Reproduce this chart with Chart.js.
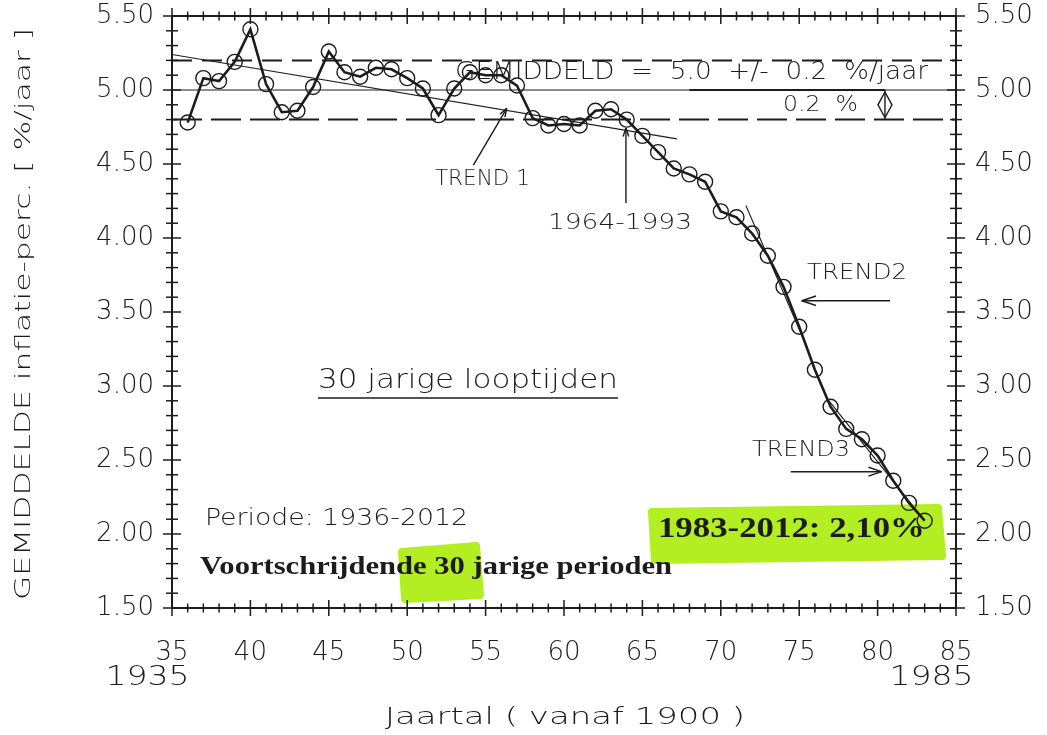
<!DOCTYPE html>
<html>
<head>
<meta charset="utf-8">
<script src="https://cdn.jsdelivr.net/npm/chart.js@4.4.1/dist/chart.umd.min.js"></script>
<style>
html,body{margin:0;padding:0;background:#fff;}
#wrap{width:1047px;height:735px;position:relative;}
</style>
</head>
<body>
<div id="wrap"><canvas id="c" width="1047" height="735"></canvas></div>
<script>
// ---------- DATA ----------
// start year (vanaf 1900) of each 30-year period
const years = [36,37,38,39,40,41,42,43,44,45,46,47,48,49,50,51,52,53,54,55,56,57,58,59,
               60,61,62,63,64,65,66,67,68,69,70,71,72,73,74,75,76,77,78,79,80,81,82,83];
// average inflation over the 30-year period [%/jaar]
const avgInflation = [4.78,5.08,5.06,5.19,5.41,5.04,4.85,4.86,5.02,5.26,5.12,5.09,5.15,5.14,5.08,5.01,4.83,5.01,5.12,5.10,5.10,5.03,4.81,4.76,
                      4.77,4.76,4.86,4.87,4.80,4.69,4.58,4.47,4.43,4.38,4.18,4.14,4.03,3.88,3.67,3.40,3.11,2.86,2.71,2.64,2.53,2.36,2.21,2.09];
const meanValue = [5.0];
const bandValues = [5.2, 4.8];
const trend1 = [[35, 5.24], [67.2, 4.67]];
const trend2 = [[71.6, 4.22], [75.5, 3.26]];
const trend3 = [[76.9, 2.90], [83.0, 2.09]];
const xRange = [35, 85];
const yRange = [1.5, 5.5];
const yearLabels = {35: '1935', 85: '1985'};

// ---------- STYLE ----------
const INK = '#1c1c1c';
const SANS = "'DejaVu Sans', 'Liberation Sans', sans-serif";
const SERIF = "'Liberation Serif', 'DejaVu Serif', serif";
const HILITE = '#b3ee22';

const toPts = arr => arr.map(p => ({x: p[0], y: p[1]}));

// annotation definitions (data coordinates)
const texts = [
  {t: 'GEMIDDELD  =  5.0  +/-  0.2  %/jaar', x1: 53.05, x2: 83.22, y: 5.115, font: '300 24px ' + SANS},
  {t: '0.2  %', x1: 73.97, x2: 78.75, y: 4.899, font: '300 22px ' + SANS},
  {t: 'TREND 1', x1: 51.77, x2: 57.83, y: 4.392, font: '300 21px ' + SANS},
  {t: '1964-1993', x1: 58.98, x2: 68.16, y: 4.101, font: '300 21px ' + SANS},
  {t: 'TREND2', x1: 75.50, x2: 81.88, y: 3.764, font: '300 22px ' + SANS},
  {t: 'TREND3', x1: 71.99, x2: 78.24, y: 2.563, font: '300 22px ' + SANS},
  {t: '30 jarige looptijden', x1: 44.31, x2: 63.44, y: 3.034, font: '300 27px ' + SANS},
  {t: 'Periode: 1936-2012', x1: 37.10, x2: 53.88, y: 2.101, font: '300 23px ' + SANS},
  {t: 'Voortschrijdende 30 jarige perioden', x1: 36.79, x2: 66.89, y: 1.777, font: 'bold 26px ' + SERIF},
  {t: '1983-2012: 2,10%', x1: 65.99, x2: 83.02, y: 2.034, font: 'bold 30px ' + SERIF}
];
const arrows = [
  {from: [54.22, 4.493], to: [56.35, 4.876], head: 9},
  {from: [63.95, 4.236], to: [63.95, 4.743], head: 9},
  {from: [80.79, 3.576], to: [75.16, 3.576], head: 15},
  {from: [74.46, 2.421], to: [80.26, 2.421], head: 14}
];
const highlights = [
  [[49.67, 1.878], [54.39, 1.919], [54.64, 1.588], [49.86, 1.561]],
  [[65.61, 2.149], [83.85, 2.176], [84.11, 1.851], [65.80, 1.824]]
];
const underline = {x1: 44.31, x2: 63.44, y: 2.919};
const dimension = {x: 80.47, y1: 5.0, y2: 4.8};

function fitText(ctx, text, x1, x2, yc, font, color) {
  ctx.save();
  ctx.font = font;
  ctx.fillStyle = color;
  ctx.textBaseline = 'middle';
  ctx.textAlign = 'left';
  const w = ctx.measureText(text).width;
  const sx = (x2 - x1) / w;
  ctx.translate(x1, yc);
  ctx.scale(sx, 1);
  ctx.fillText(text, 0, 0);
  ctx.restore();
}
function line(ctx, x1, y1, x2, y2) {
  ctx.beginPath(); ctx.moveTo(x1, y1); ctx.lineTo(x2, y2); ctx.stroke();
}

const annotPlugin = {
  id: 'annot',
  beforeDatasetsDraw(chart) {
    const {ctx, scales: {x, y}} = chart;
    ctx.save();
    ctx.fillStyle = HILITE; ctx.strokeStyle = HILITE; ctx.lineWidth = 8; ctx.lineJoin = 'round';
    for (const poly of highlights) {
      ctx.beginPath();
      poly.forEach((p, i) => {
        const px = x.getPixelForValue(p[0]), py = y.getPixelForValue(p[1]);
        if (i === 0) ctx.moveTo(px, py); else ctx.lineTo(px, py);
      });
      ctx.closePath(); ctx.fill(); ctx.stroke();
    }
    ctx.restore();
  },
  afterDraw(chart) {
    const {ctx, chartArea: a, scales: {x, y}} = chart;
    ctx.save();
    ctx.strokeStyle = INK; ctx.lineCap = 'butt';
    // minor / major ticks on all four sides
    ctx.lineWidth = 1.5;
    for (let v = xRange[0]; v <= xRange[1]; v++) {
      const px = x.getPixelForValue(v);
      const L = v % 5 === 0 ? 8 : 4.5;
      line(ctx, px, a.top - L, px, a.top + L);
      line(ctx, px, a.bottom - L, px, a.bottom + L);
    }
    for (let k = Math.round(yRange[0] * 10); k <= Math.round(yRange[1] * 10); k++) {
      const py = y.getPixelForValue(k / 10);
      const L = k % 5 === 0 ? 9 : 6;
      line(ctx, a.left - L, py, a.left + L, py);
      line(ctx, a.right - L, py, a.right + L, py);
    }
    // year labels under 35 and 85 (right-aligned with the tick label)
    ctx.font = '300 26px ' + SANS;
    for (const k of Object.keys(yearLabels)) {
      const px = x.getPixelForValue(+k);
      const w = ctx.measureText(String(k)).width;
      const right = px + w / 2 + 1;
      fitText(ctx, yearLabels[k], right - 84, right, 678, '300 27px ' + SANS, INK);
    }
    // axis titles
    fitText(ctx, 'Jaartal ( vanaf 1900 )', 385, 745, 718, '300 23px ' + SANS, INK);
    ctx.save();
    ctx.translate(25, 600); ctx.rotate(-Math.PI / 2);
    fitText(ctx, 'GEMIDDELDE inflatie-perc. [ %/jaar ]', 0, 572, 0, '300 21px ' + SANS, INK);
    ctx.restore();
    // texts
    for (const t of texts) {
      fitText(ctx, t.t, x.getPixelForValue(t.x1), x.getPixelForValue(t.x2), y.getPixelForValue(t.y), t.font, INK);
    }
    // underline
    ctx.lineWidth = 1.6;
    line(ctx, x.getPixelForValue(underline.x1), y.getPixelForValue(underline.y), x.getPixelForValue(underline.x2), y.getPixelForValue(underline.y));
    // arrows
    ctx.lineWidth = 1.4;
    for (const ar of arrows) {
      const x1 = x.getPixelForValue(ar.from[0]), y1 = y.getPixelForValue(ar.from[1]);
      const x2 = x.getPixelForValue(ar.to[0]), y2 = y.getPixelForValue(ar.to[1]);
      line(ctx, x1, y1, x2, y2);
      const ang = Math.atan2(y2 - y1, x2 - x1);
      const sp = 0.32;
      line(ctx, x2, y2, x2 - ar.head * Math.cos(ang - sp), y2 - ar.head * Math.sin(ang - sp));
      line(ctx, x2, y2, x2 - ar.head * Math.cos(ang + sp), y2 - ar.head * Math.sin(ang + sp));
    }
    // 0.2 % dimension mark (diamond double arrow)
    const dx = x.getPixelForValue(dimension.x);
    const dy1 = y.getPixelForValue(dimension.y1), dy2 = y.getPixelForValue(dimension.y2);
    ctx.lineWidth = 1.4;
    line(ctx, dx, dy1, dx, dy2);
    const mid = (dy1 + dy2) / 2;
    ctx.beginPath();
    ctx.moveTo(dx, dy1 + 2); ctx.lineTo(dx + 7, mid); ctx.lineTo(dx, dy2 - 2); ctx.lineTo(dx - 7, mid); ctx.closePath();
    ctx.stroke();
    ctx.lineWidth = 2.2;
    line(ctx, x.getPixelForValue(68.0), dy1, dx, dy1);
    ctx.restore();
  }
};

const tickFont = {family: SANS, size: 26, weight: '300'};
const axisBorder = {display: true, color: INK, width: 2};
function noPad(s) { s.paddingTop = 0; s.paddingBottom = 0; s.paddingLeft = 0; s.paddingRight = 0; }

new Chart(document.getElementById('c'), {
  type: 'line',
  data: {
    datasets: [
      {
        label: 'Gemiddelde inflatie 30 jaar',
        data: years.map((v, i) => ({x: v, y: avgInflation[i]})),
        borderColor: INK, borderWidth: 2.6, tension: 0,
        pointRadius: 7.5, pointBorderWidth: 1.4, pointBorderColor: INK,
        pointBackgroundColor: 'rgba(255,255,255,0)', pointStyle: 'circle'
      },
      {label: 'gemiddeld', data: toPts([[xRange[0], meanValue[0]], [xRange[1], meanValue[0]]]),
        borderColor: INK, borderWidth: 1.1, pointRadius: 0},
      {label: '+0.2', data: toPts([[xRange[0], bandValues[0]], [xRange[1], bandValues[0]]]),
        borderColor: INK, borderWidth: 2, borderDash: [20, 10], pointRadius: 0},
      {label: '-0.2', data: toPts([[xRange[0], bandValues[1]], [xRange[1], bandValues[1]]]),
        borderColor: INK, borderWidth: 2, borderDash: [30, 9], pointRadius: 0},
      {label: 'trend1', data: toPts(trend1), borderColor: INK, borderWidth: 1.1, pointRadius: 0},
      {label: 'trend2', data: toPts(trend2), borderColor: INK, borderWidth: 1.1, pointRadius: 0},
      {label: 'trend3', data: toPts(trend3), borderColor: INK, borderWidth: 1.1, pointRadius: 0}
    ]
  },
  options: {
    responsive: false,
    animation: false,
    devicePixelRatio: 1,
    layout: {padding: 0},
    plugins: {legend: {display: false}, tooltip: {enabled: false}},
    scales: {
      x: {
        type: 'linear', position: 'bottom', min: xRange[0], max: xRange[1],
        afterFit(s) { s.height = 127; noPad(s); },
        grid: {display: false, drawTicks: false},
        border: axisBorder,
        ticks: {stepSize: 5, padding: 30, font: tickFont, color: INK, maxRotation: 0, autoSkip: false,
                callback: v => String(v)}
      },
      xTop: {
        type: 'linear', position: 'top', min: xRange[0], max: xRange[1],
        afterFit(s) { s.height = 16; noPad(s); },
        grid: {display: false, drawTicks: false},
        border: axisBorder,
        ticks: {display: false}
      },
      y: {
        type: 'linear', position: 'left', min: yRange[0], max: yRange[1],
        afterFit(s) { s.width = 172; noPad(s); },
        grid: {display: false, drawTicks: false},
        border: axisBorder,
        ticks: {stepSize: 0.5, padding: 18, font: tickFont, color: INK, callback: v => v.toFixed(2)}
      },
      yRight: {
        type: 'linear', position: 'right', min: yRange[0], max: yRange[1],
        afterFit(s) { s.width = 91; noPad(s); },
        grid: {display: false, drawTicks: false},
        border: axisBorder,
        ticks: {stepSize: 0.5, padding: 19, font: tickFont, color: INK, callback: v => v.toFixed(2)}
      }
    }
  },
  plugins: [annotPlugin]
});
</script>
</body>
</html>
